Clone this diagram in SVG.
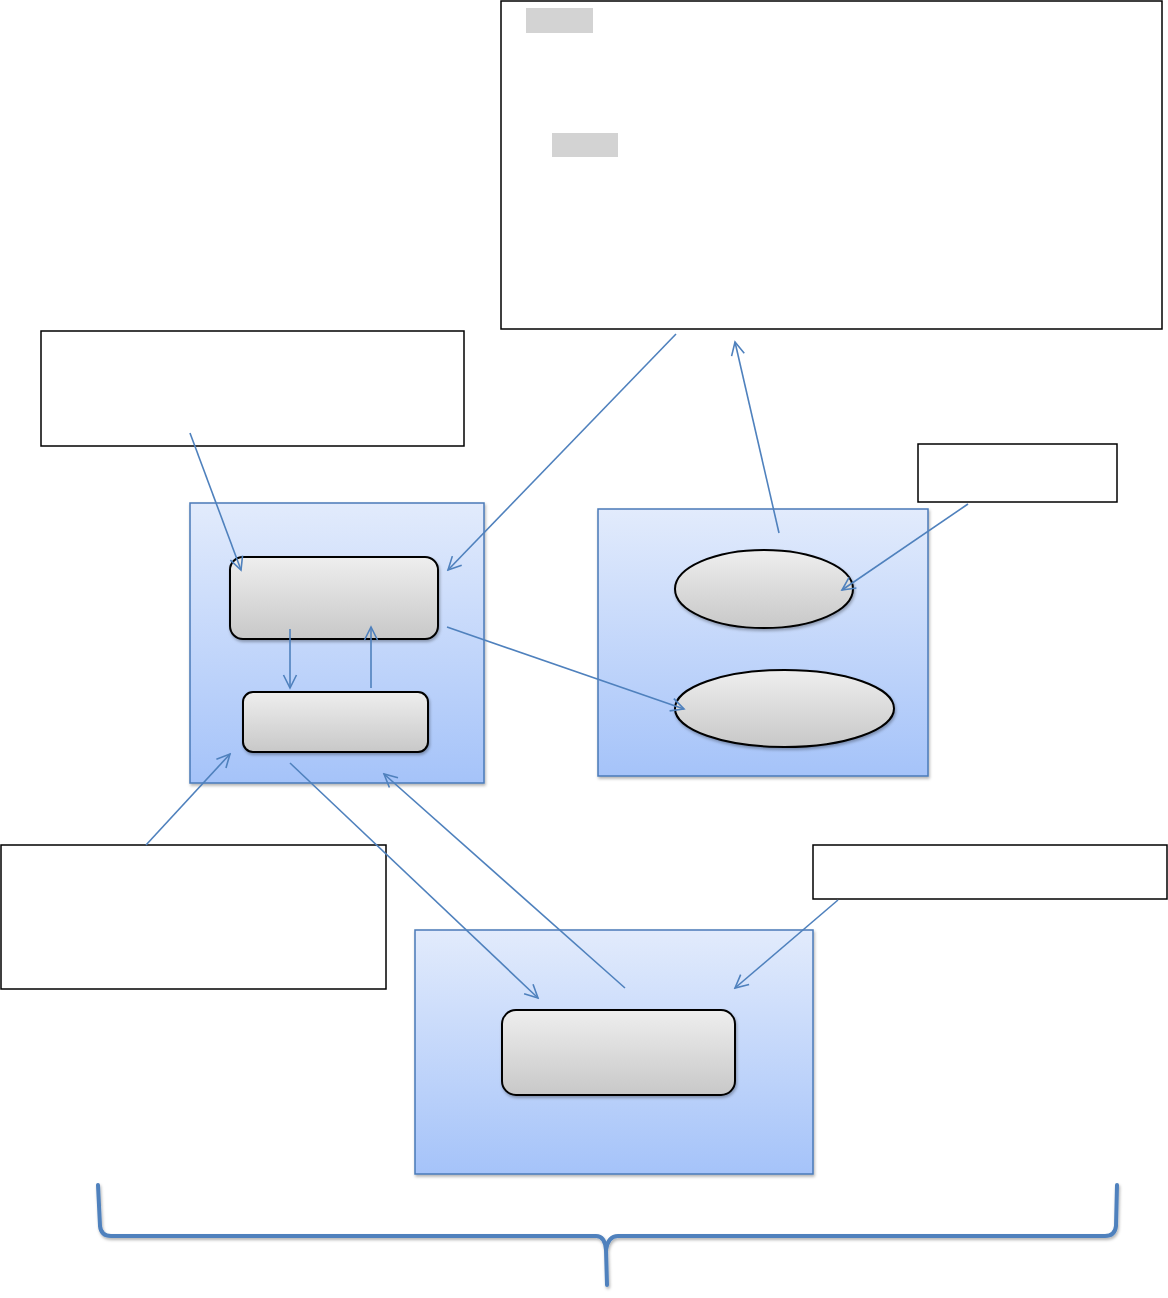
<svg xmlns="http://www.w3.org/2000/svg" width="1168" height="1298" viewBox="0 0 1168 1298">
<style>
.note{fill:#ffffff;stroke:#000000;stroke-width:1.5}
.cont{fill:url(#blue);stroke:#4a7ab8;stroke-width:1.5;filter:url(#sh)}
.node{fill:url(#gray);stroke:#000000;stroke-width:2;filter:url(#sh)}
.hl{fill:#d3d3d3}
.conn{fill:none;stroke:#4f81bd;stroke-width:1.6;marker-end:url(#arr)}
.brace{fill:none;stroke:#4f81bd;stroke-width:4;stroke-linecap:round;stroke-linejoin:round;filter:url(#sh)}
</style>
<defs>
<linearGradient id="blue" x1="0" y1="0" x2="0" y2="1">
<stop offset="0" stop-color="#e2ebfc"/>
<stop offset="1" stop-color="#a5c3f9"/>
</linearGradient>
<linearGradient id="gray" x1="0" y1="0" x2="0" y2="1">
<stop offset="0" stop-color="#eeeeee"/>
<stop offset="1" stop-color="#c8c8c8"/>
</linearGradient>
<filter id="sh" x="-10%" y="-10%" width="120%" height="130%">
<feDropShadow dx="1" dy="2" stdDeviation="1.5" flood-color="#000000" flood-opacity="0.3"/>
</filter>
<marker id="arr" viewBox="0 0 16 16" refX="14" refY="8" markerWidth="16" markerHeight="16" markerUnits="userSpaceOnUse" orient="auto">
<path d="M1,1.5 L14,8 L1,14.5" fill="none" stroke="#4f81bd" stroke-width="1.6"/>
</marker>
</defs>
<rect width="1168" height="1298" fill="#ffffff"/>

<g id="note-top">
<rect class="note" x="501" y="1" width="661" height="328"/>
<rect class="hl" x="526" y="8" width="67" height="25"/>
<rect class="hl" x="552" y="133" width="66" height="24"/>
</g>
<g id="note-left"><rect class="note" x="41" y="331" width="423" height="115"/></g>
<g id="note-right"><rect class="note" x="918" y="444" width="199" height="58"/></g>
<g id="note-bottom-left"><rect class="note" x="1" y="845" width="385" height="144"/></g>
<g id="note-bottom-right"><rect class="note" x="813" y="845" width="354" height="54"/></g>

<g id="container-left">
<rect class="cont" x="190" y="503" width="294" height="280"/>
</g>
<g id="container-right">
<rect class="cont" x="598" y="509" width="330" height="267"/>
</g>
<g id="container-bottom">
<rect class="cont" x="415" y="930" width="398" height="244"/>
</g>

<g id="node-r1"><rect class="node" x="230" y="557" width="208" height="82" rx="13"/></g>
<g id="node-r2"><rect class="node" x="243" y="692" width="185" height="60" rx="10"/></g>
<g id="node-e1"><ellipse class="node" cx="764" cy="589" rx="89" ry="39"/></g>
<g id="node-e2"><ellipse class="node" cx="784.5" cy="708.5" rx="109.5" ry="38.5"/></g>
<g id="node-r3"><rect class="node" x="502" y="1010" width="233" height="85" rx="14"/></g>

<g id="connectors">
<line class="conn" x1="190" y1="433" x2="241" y2="570"/>
<line class="conn" x1="676" y1="334" x2="448" y2="570"/>
<line class="conn" x1="779" y1="533" x2="735" y2="342"/>
<line class="conn" x1="968" y1="504" x2="842" y2="590"/>
<line class="conn" x1="447" y1="627" x2="684" y2="709"/>
<line class="conn" x1="290" y1="629" x2="290" y2="688"/>
<line class="conn" x1="371" y1="688" x2="371" y2="627"/>
<line class="conn" x1="146" y1="845" x2="230" y2="754"/>
<line class="conn" x1="290" y1="763" x2="538" y2="998"/>
<line class="conn" x1="625" y1="988" x2="384" y2="774"/>
<line class="conn" x1="838" y1="900" x2="735" y2="988"/>
</g>

<g id="brace">
<path class="brace" d="M98,1185 L100,1226 Q101,1236 111,1236 L596,1236 Q605,1236 606,1250 L607,1285 M606,1250 Q608,1236 618,1236 L1105,1236 Q1115,1236 1116,1226 L1117,1185"/>
</g>
</svg>
